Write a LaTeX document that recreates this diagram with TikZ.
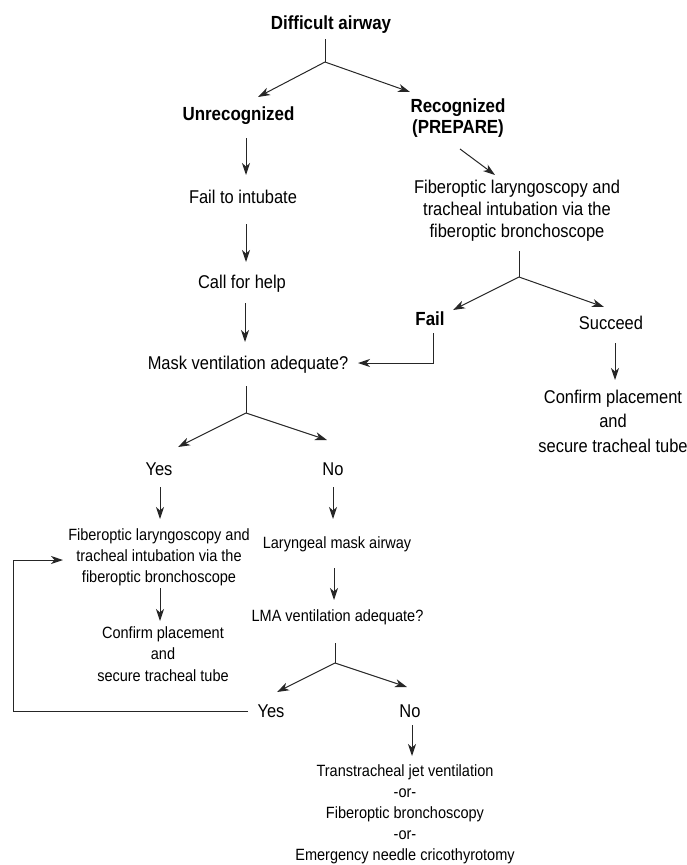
\documentclass[tikz,border=0pt]{standalone}
\usepackage{fontspec}
\setmainfont{Liberation Sans}[FakeStretch=0.89]
\usetikzlibrary{arrows.meta}
\begin{document}
\begin{tikzpicture}[x=1pt,y=-1pt,
  big/.style={font=\fontsize{18.5}{22}\selectfont, inner sep=0pt, align=center, anchor=base},
  bigb/.style={font=\fontsize{19}{21}\selectfont\bfseries, inner sep=0pt, align=center, anchor=base},
  small/.style={font=\fontsize{16.3}{21}\selectfont, inner sep=0pt, align=center, anchor=base},
  ln/.style={line width=1pt, draw=black!85},
  arr/.style={ln, -{Stealth[length=12pt,width=8pt,inset=3.5pt]}},
]
\useasboundingbox (0,0) rectangle (687,865);

% nodes (base = baseline of the last line)
\node[bigb] (da) at (331,29) {Difficult airway};
\node[bigb] (unrec) at (238.5,120) {Unrecognized};
\node[bigb] (rec) at (458,133) {Recognized\\(PREPARE)};
\node[big] (failint) at (243,203) {Fail to intubate};
\node[big] (help) at (242,288) {Call for help};
\node[big] (mask) at (248,369) {Mask ventilation adequate?};
\node[big] (yes1) at (159,475) {Yes};
\node[big] (no1) at (333,475) {No};
\node[big] (fo1) at (517,237) {Fiberoptic laryngoscopy and\\tracheal intubation via the\\fiberoptic bronchoscope};
\node[bigb] (fail) at (430,325) {Fail};
\node[big] (succ) at (611,329) {Succeed};
\node[big, font=\fontsize{18.5}{24.5}\selectfont] (conf1) at (613,452) {Confirm placement\\and\\secure tracheal tube};
\node[small] (fo2) at (159,582) {Fiberoptic laryngoscopy and\\tracheal intubation via the\\fiberoptic bronchoscope};
\node[small] (lma) at (337,548) {Laryngeal mask airway};
\node[small] (lmaq) at (337.5,621) {LMA ventilation adequate?};
\node[small, font=\fontsize{16.3}{21.5}\selectfont] (conf2) at (163,681) {Confirm placement\\and\\secure tracheal tube};
\node[big] (yes2) at (271,717) {Yes};
\node[big] (no2) at (410,717) {No};
\node[small, font=\fontsize{16.3}{21}\selectfont] (alt) at (405,860) {Transtracheal jet ventilation\\-or-\\Fiberoptic bronchoscopy\\-or-\\Emergency needle cricothyrotomy};

% junctions
\coordinate (j1) at (325,62);
\coordinate (j2) at (246,413);
\coordinate (j3) at (519,277);
\coordinate (j4) at (335,663);
\coordinate (lb) at (13,711);

% connectors
\draw[ln] ([shift={(-6,10)}]da.base) -- (j1);
\draw[arr] (j1) -- ([shift={(19.5,-23)}]unrec.base);
\draw[arr] (j1) -- ([shift={(-48,-41)}]rec.base);
\draw[arr] ([shift={(7.5,18)}]unrec.base) -- ([shift={(3,-28)}]failint.base);
\draw[arr] ([shift={(3,21)}]failint.base) -- ([shift={(4,-26)}]help.base);
\draw[arr] ([shift={(3,15)}]help.base) -- ([shift={(-3,-27)}]mask.base);
\draw[ln] ([shift={(-2,17)}]mask.base) -- (j2);
\draw[arr] (j2) -- ([shift={(19,-28)}]yes1.base);
\draw[arr] (j2) -- ([shift={(-6,-35)}]no1.base);
\draw[arr] ([shift={(2,16)}]rec.base) -- ([shift={(-22,-62)}]fo1.base);
\draw[ln] ([shift={(2,14)}]fo1.base) -- (j3);
\draw[arr] (j3) -- ([shift={(23,-15)}]fail.base);
\draw[arr] (j3) -- ([shift={(-7,-22)}]succ.base);
\draw[arr] ([shift={(3,8)}]fail.base) |- ([shift={(110,-6)}]mask.base);
\draw[arr] ([shift={(4,14)}]succ.base) -- ([shift={(2,-72)}]conf1.base);
\draw[arr] ([shift={(1,12)}]yes1.base) -- ([shift={(1,-63)}]fo2.base);
\draw[arr] ([shift={(0,12)}]no1.base) -- ([shift={(-4,-29)}]lma.base);
\draw[arr] ([shift={(1,6)}]fo2.base) -- ([shift={(-3,-60)}]conf2.base);
\draw[arr] ([shift={(-3,20)}]lma.base) -- ([shift={(-3.5,-21)}]lmaq.base);
\draw[ln] ([shift={(-2.5,22)}]lmaq.base) -- (j4);
\draw[arr] (j4) -- ([shift={(6,-25)}]yes2.base);
\draw[arr] (j4) -- ([shift={(-3,-30)}]no2.base);
\draw[arr] ([shift={(-23,-6)}]yes2.base) -- (lb) |- ([shift={(-96,-22)}]fo2.base);
\draw[arr] ([shift={(2,8)}]no2.base) -- ([shift={(7,-104)}]alt.base);
\end{tikzpicture}
\end{document}
